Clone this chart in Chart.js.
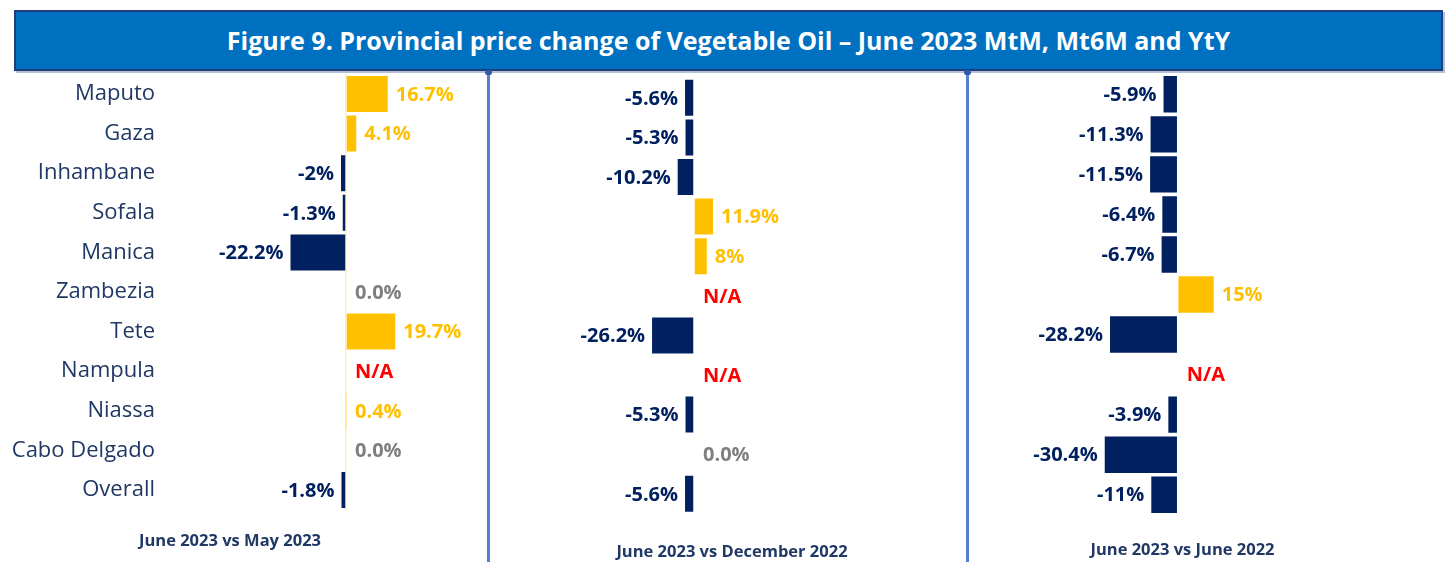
<!DOCTYPE html>
<html>
<head>
<meta charset="utf-8">
<script src="https://cdn.jsdelivr.net/npm/chart.js@4.4.0/dist/chart.umd.min.js"></script>
<style>
  body { margin: 0; width: 1450px; height: 562px; background: #fff; position: relative; overflow: hidden; font-family: "Open Sans", sans-serif; }
  #banner { position: absolute; left: 14px; top: 10px; width: 1425px; height: 57px; background: #0070C0; border: 2px solid #1F3D7A;
            box-shadow: 2px 2px 0 #B4C0DA; color: #fff; font-weight: 700; font-size: 25px; text-align: center; line-height: 57px; }
  .divider { position: absolute; top: 71px; width: 3px; height: 491px; background: #5580CC; }
  .divider::before { content: ""; position: absolute; left: -2px; top: -1px; width: 7px; height: 5px; border-radius: 3px; background: #2F5BAA; }
  canvas { position: absolute; top: 72px; }
</style>
</head>
<body>
<div id="banner">Figure 9. Provincial price change of Vegetable Oil – June 2023 MtM, Mt6M and YtY</div>
<div class="divider" style="left:487px"></div>
<div class="divider" style="left:966px"></div>
<canvas id="c1" width="488" height="490" style="left:0px"></canvas>
<canvas id="c2" width="476" height="490" style="left:490px"></canvas>
<canvas id="c3" width="480" height="490" style="left:970px"></canvas>

<script>
// data (% change, null = N/A)
const provinces = ['Maputo', 'Gaza', 'Inhambane', 'Sofala', 'Manica', 'Zambezia', 'Tete', 'Nampula', 'Niassa', 'Cabo Delgado', 'Overall'];
const mtm  = [16.7, 4.1, -2, -1.3, -22.2, 0, 19.7, null, 0.4, 0, -1.8];
const mt6m = [-5.6, -5.3, -10.2, 11.9, 8, null, -26.2, null, -5.3, 0, -5.6];
const yty  = [-5.9, -11.3, -11.5, -6.4, -6.7, 15, -28.2, null, -3.9, -30.4, -11];
const periodTitles = ['June 2023 vs May 2023', 'June 2023 vs December 2022', 'June 2023 vs June 2022'];

const GOLD = '#FFC000', NAVY = '#002060', GREY = '#7F7F7F', RED = '#FF0000';
const TEXT = '#1F3864';

const valueLabels = {
  id: 'valueLabels',
  afterDatasetsDraw(chart) {
    const { ctx, scales: { x, y } } = chart;
    const meta = chart.getDatasetMeta(0);
    const zero = x.getPixelForValue(0);
    ctx.save();
    ctx.font = 'bold 20px "Open Sans"';
    ctx.textBaseline = 'middle';
    chart.data.datasets[0].data.forEach((v, i) => {
      const cy = y.getPixelForValue(i) + 1;
      let text, color, tx, align = 'left';
      if (v === null) { text = 'N/A'; color = RED; tx = zero + 9; }
      else if (v === 0) { text = '0.0%'; color = GREY; tx = zero + 9; }
      else if (v > 0) { text = v + '%'; color = GOLD; tx = meta.data[i].x + 8; }
      else { text = v + '%'; color = NAVY; tx = meta.data[i].x - 7; align = 'right'; }
      ctx.fillStyle = color;
      ctx.textAlign = align;
      ctx.fillText(text, tx, cy);
    });
    ctx.restore();
  }
};

// pixel layout of each panel (canvas-relative)
function makePanel(id, values, title, lay) {
  const areaH = lay.band * provinces.length;
  const left = lay.showNames ? lay.axisW : lay.padL;
  const right = lay.w - lay.padR;
  const min = -(lay.zero - left) / lay.ppu;
  const max = (right - lay.zero) / lay.ppu;
  const titleBottom = 490 - lay.padT - areaH - lay.titleTop - 19.8;

  new Chart(document.getElementById(id), {
    type: 'bar',
    data: {
      labels: provinces,
      datasets: [{
        data: values,
        backgroundColor: c => c.raw >= 0 ? GOLD : NAVY,
        barPercentage: 0.91,
        categoryPercentage: 1
      }]
    },
    options: {
      indexAxis: 'y',
      responsive: false,
      animation: false,
      layout: { padding: { left: lay.showNames ? 0 : lay.padL, right: lay.padR, top: lay.padT, bottom: 0 } },
      scales: {
        x: {
          min: min, max: max,
          afterBuildTicks: s => { s.ticks = [{ value: 0 }]; },
          ticks: { display: false },
          border: { display: false },
          grid: { drawTicks: false, color: lay.zeroLine ? '#FFEDB8' : 'rgba(0,0,0,0)', lineWidth: 1.5 }
        },
        y: {
          display: lay.showNames,
          afterFit: s => {
            if (lay.showNames) s.width = lay.axisW;
            s.paddingTop = 0;
            s.paddingBottom = 0;
          },
          border: { display: false },
          grid: { display: false, drawTicks: false },
          ticks: { color: TEXT, padding: 10, font: { family: 'Open Sans', size: 22 } }
        }
      },
      plugins: {
        legend: { display: false },
        tooltip: { enabled: false },
        title: {
          display: true,
          text: title,
          position: 'bottom',
          color: TEXT,
          font: { family: 'Open Sans', size: 16.5, weight: 'bold', lineHeight: 1.2 },
          padding: { top: lay.titleTop, bottom: titleBottom }
        }
      }
    },
    plugins: [valueLabels]
  });
}

makePanel('c1', mtm, periodTitles[0], { w: 488, showNames: true, axisW: 165, padR: 28, padT: 2.2, band: 39.6, zero: 346, ppu: 2.5, titleTop: 21.3, zeroLine: true });
makePanel('c2', mt6m, periodTitles[1], { w: 476, showNames: false, padL: 10, padR: 2, padT: 6, band: 39.6, zero: 204, ppu: 1.6, titleTop: 28.5, zeroLine: false });
makePanel('c3', yty, periodTitles[2], { w: 480, showNames: false, padL: 0, padR: 55, padT: 2.3, band: 40.04, zero: 207.7, ppu: 2.4, titleTop: 25.4, zeroLine: false });
</script>
</body>
</html>
